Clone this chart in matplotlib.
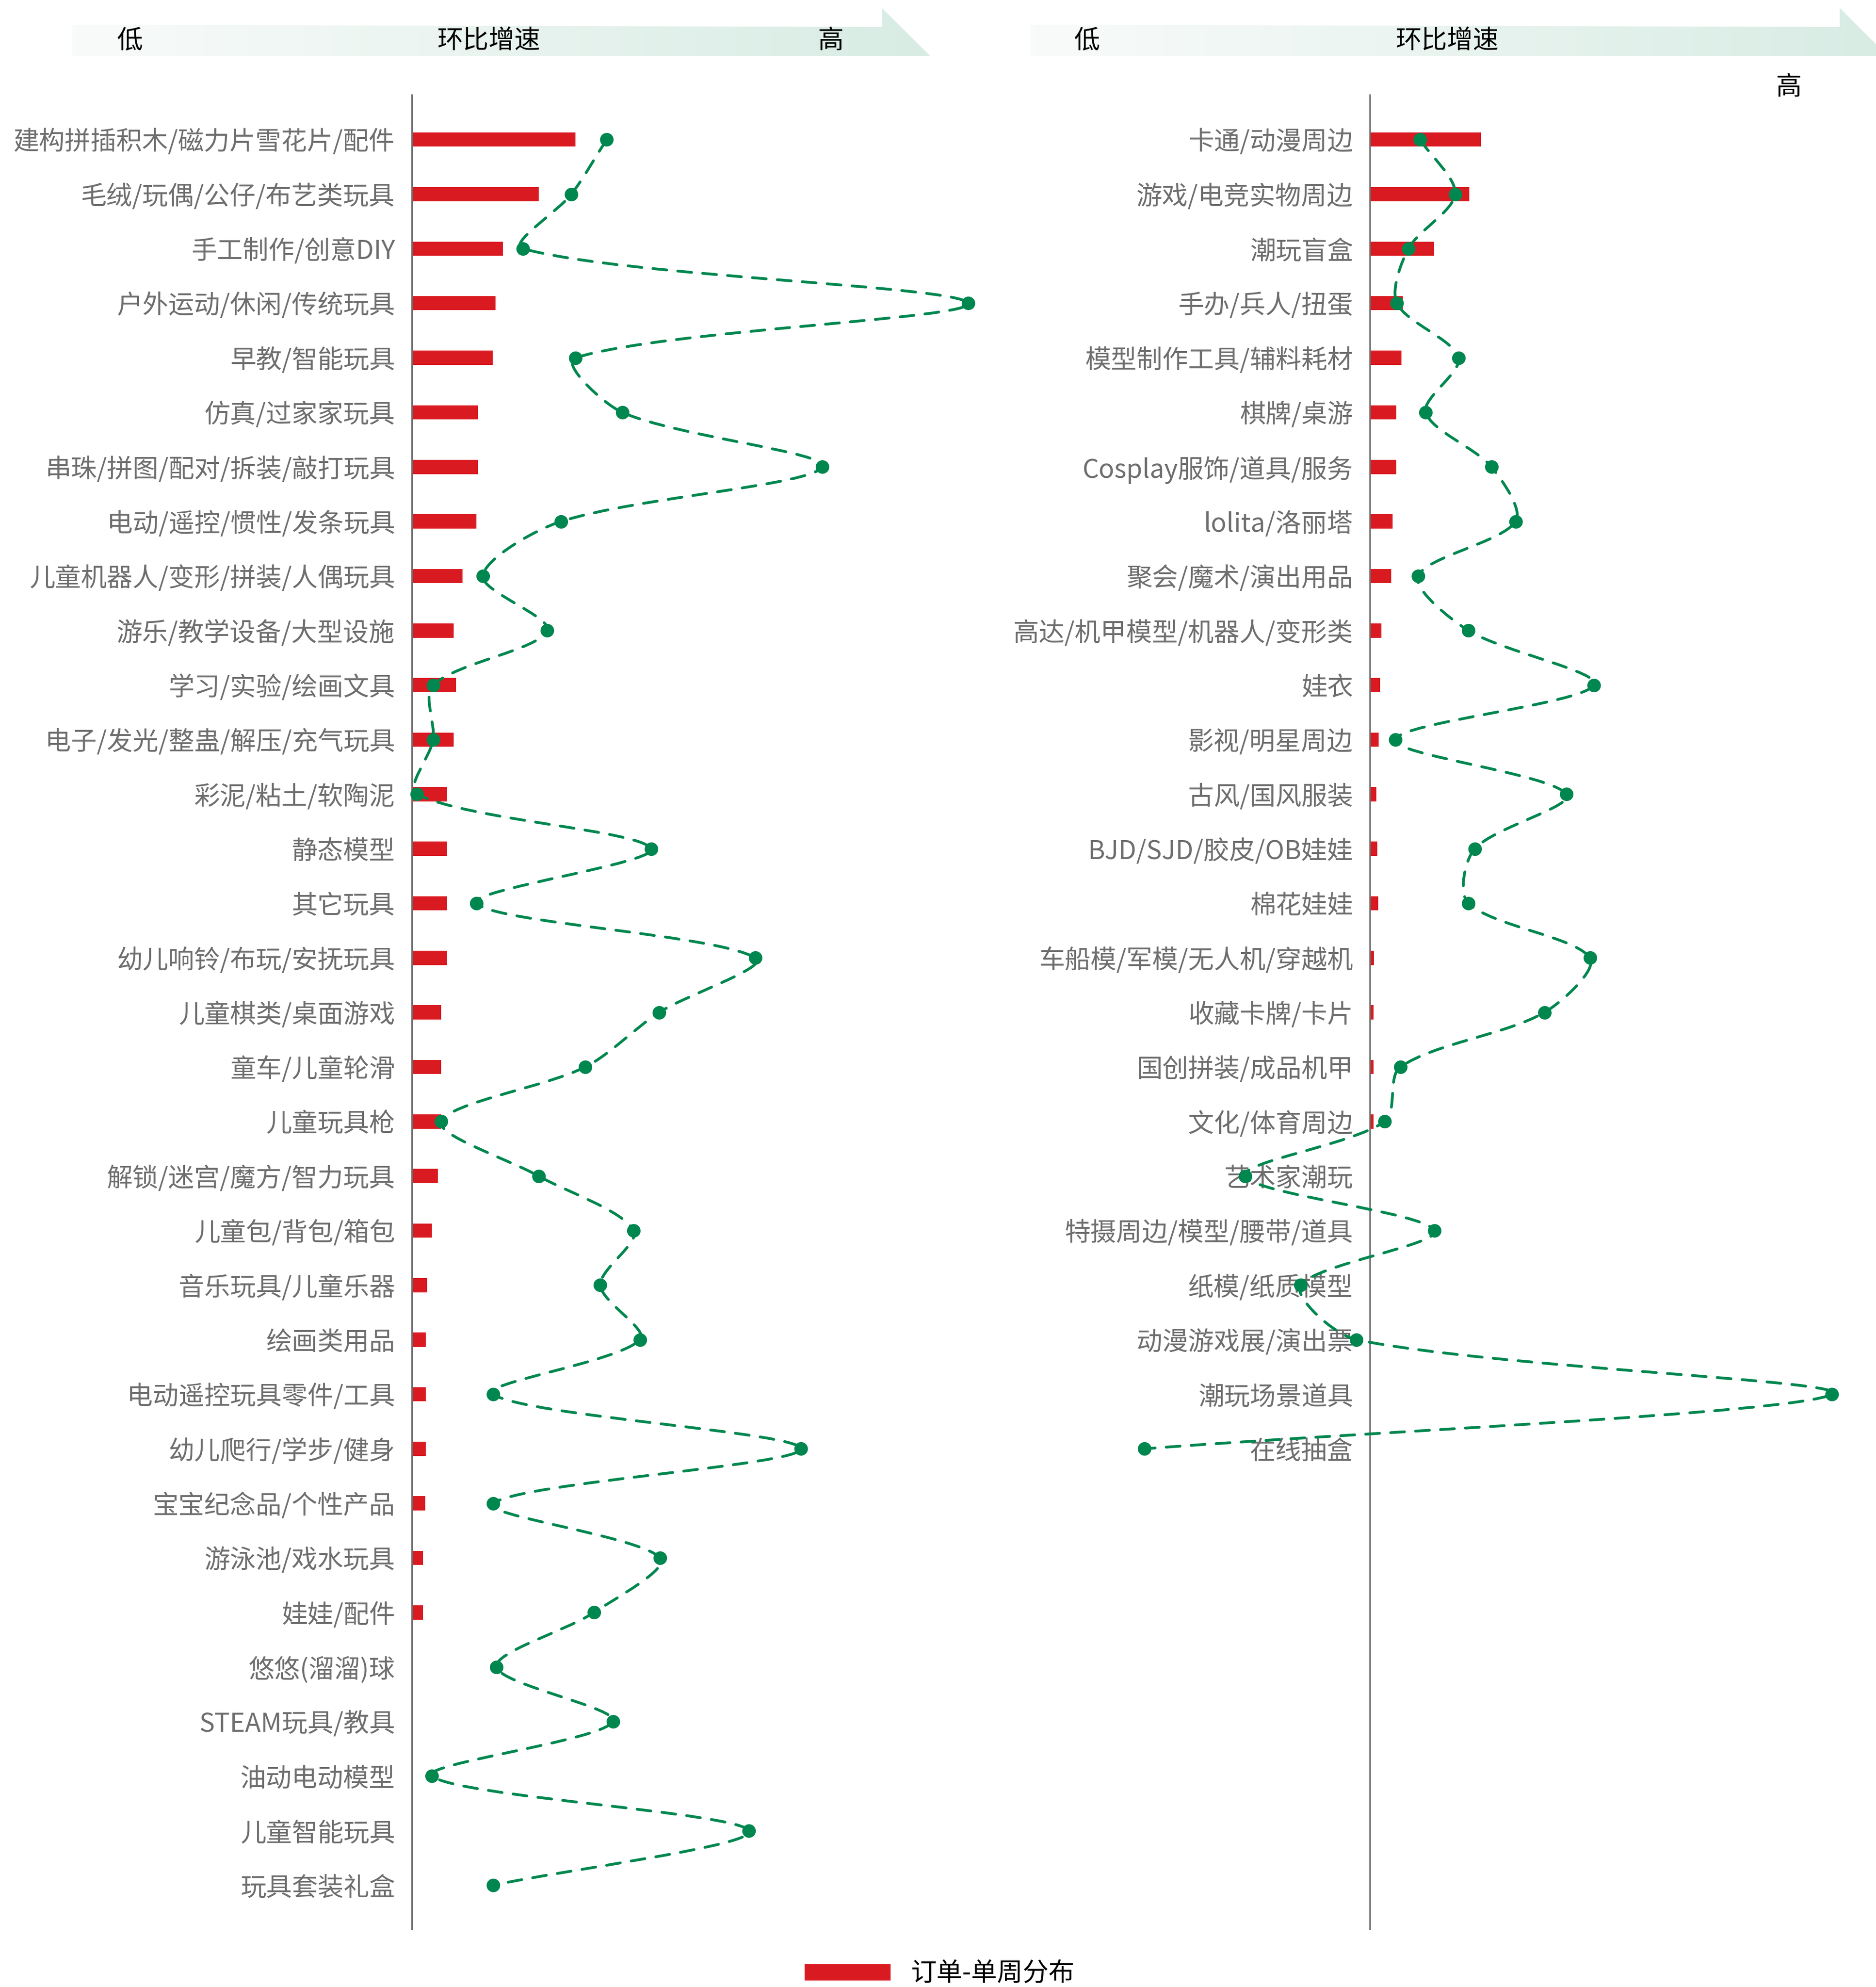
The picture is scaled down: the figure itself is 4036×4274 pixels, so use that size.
import numpy as np
import matplotlib
matplotlib.use('Agg')
import matplotlib.pyplot as plt
from matplotlib.path import Path
from matplotlib.patches import PathPatch, Polygon
from matplotlib.colors import LinearSegmentedColormap

plt.rcParams['font.family'] = ['Noto Sans CJK SC', 'DejaVu Sans']

# ---------------- data ----------------
left_categories = [
    '建构拼插积木/磁力片雪花片/配件', '毛绒/玩偶/公仔/布艺类玩具', '手工制作/创意DIY',
    '户外运动/休闲/传统玩具', '早教/智能玩具', '仿真/过家家玩具', '串珠/拼图/配对/拆装/敲打玩具',
    '电动/遥控/惯性/发条玩具', '儿童机器人/变形/拼装/人偶玩具', '游乐/教学设备/大型设施',
    '学习/实验/绘画文具', '电子/发光/整蛊/解压/充气玩具', '彩泥/粘土/软陶泥', '静态模型',
    '其它玩具', '幼儿响铃/布玩/安抚玩具', '儿童棋类/桌面游戏', '童车/儿童轮滑', '儿童玩具枪',
    '解锁/迷宫/魔方/智力玩具', '儿童包/背包/箱包', '音乐玩具/儿童乐器', '绘画类用品',
    '电动遥控玩具零件/工具', '幼儿爬行/学步/健身', '宝宝纪念品/个性产品', '游泳池/戏水玩具',
    '娃娃/配件', '悠悠(溜溜)球', 'STEAM玩具/教具', '油动电动模型', '儿童智能玩具', '玩具套装礼盒',
]
left_orders = [12.9, 10.0, 7.2, 6.6, 6.4, 5.2, 5.2, 5.1, 4.0, 3.3, 3.5, 3.3, 2.8, 2.8,
               2.8, 2.8, 2.3, 2.3, 2.3, 2.05, 1.58, 1.21, 1.1, 1.1, 1.1, 1.06, 0.88,
               0.88, 0, 0, 0, 0, 0]
left_growth = [33.8, 27.7, 19.3, 96.5, 28.4, 36.5, 71.2, 25.9, 12.3, 23.5, 3.7, 3.7,
               0.9, 41.5, 11.2, 59.6, 42.9, 30.1, 5.1, 22.0, 38.5, 32.7, 39.6, 14.1,
               67.5, 14.1, 43.1, 31.6, 14.7, 34.9, 3.5, 58.5, 14.1]

right_categories = [
    '卡通/动漫周边', '游戏/电竞实物周边', '潮玩盲盒', '手办/兵人/扭蛋', '模型制作工具/辅料耗材',
    '棋牌/桌游', 'Cosplay服饰/道具/服务', 'lolita/洛丽塔', '聚会/魔术/演出用品',
    '高达/机甲模型/机器人/变形类', '娃衣', '影视/明星周边', '古风/国风服装',
    'BJD/SJD/胶皮/OB娃娃', '棉花娃娃', '车船模/军模/无人机/穿越机', '收藏卡牌/卡片',
    '国创拼装/成品机甲', '文化/体育周边', '艺术家潮玩', '特摄周边/模型/腰带/道具',
    '纸模/纸质模型', '动漫游戏展/演出票', '潮玩场景道具', '在线抽盒',
]
right_orders = [8.77, 7.85, 5.06, 2.6, 2.5, 2.1, 2.1, 1.8, 1.7, 0.9, 0.8, 0.7, 0.5,
                0.6, 0.66, 0.33, 0.29, 0.29, 0.29, 0, 0, 0, 0, 0, 0]
right_growth = [8.7, 14.8, 6.7, 4.7, 15.4, 9.7, 21.1, 25.3, 8.4, 17.1, 38.9, 4.4, 34.1,
                18.2, 17.1, 38.2, 30.3, 5.3, 2.6, -21.6, 11.2, -12.0, -2.3, 80.2, -39.1]

legend_label = '订单-单周分布'
header_low, header_mid, header_high = '低', '环比增速', '高'

# ---------------- style ----------------
W, H = 4037, 4274
DPI = 100
BAR_RED = '#da1a21'
GREEN = '#00874f'
GRAY = '#6b6b6b'
LABEL_GRAY = '#6e6e6e'
FS = 40

fig = plt.figure(figsize=(W / DPI, H / DPI), dpi=DPI)
fig.patch.set_facecolor('white')

# background overlay (pixel coordinates) for header arrows
ax_bg = fig.add_axes([0, 0, 1, 1])
ax_bg.set_axis_off()
band_cmap = LinearSegmentedColormap.from_list('band', ['#f9fbfa', '#d8ece4'])
grad = np.linspace(0, 1, 256)[None, :]
for (x0, xv, xt) in [(155, 1897, 2002), (2217, 3958, 4062)]:
    poly = Polygon([(x0, 53), (xv, 58), (xv, 17), (xt, 121), (x0, 121)], closed=True,
                   facecolor='none', edgecolor='none')
    ax_bg.add_patch(poly)
    im = ax_bg.imshow(grad, cmap=band_cmap, extent=(x0, xt, 121, 17), aspect='auto',
                      interpolation='bilinear')
    im.set_clip_path(poly)
ax_bg.set_xlim(0, W)
ax_bg.set_ylim(H, 0)
for (x, y, s) in [(280, 88, header_low), (1051, 88, header_mid), (1788, 88, header_high),
                  (2339, 88, header_low), (3113, 88, header_mid), (3849, 188, header_high)]:
    ax_bg.text(x, y, s, fontsize=FS, ha='center', va='center', color='black')

# axes geometry
ax_top_px, ax_bot_px = 204, 4149
bottom = 1 - ax_bot_px / H
height = (ax_bot_px - ax_top_px) / H
ylim = (32.8, -0.82)


def smooth_path(ax, xs, ys, smooth=0.3):
    pts = ax.transData.transform(np.column_stack([xs, ys]))
    n = len(pts)
    cin, cout = [], []
    for i in range(n):
        p = pts[i]
        prev = pts[i - 1] if i > 0 else p
        nxt = pts[i + 1] if i < n - 1 else p
        v = (nxt - prev) * smooth
        d0 = np.hypot(*(p - prev))
        d1 = np.hypot(*(p - nxt))
        s = d0 + d1
        if s > 0:
            d0 /= s
            d1 /= s
        cin.append(p - v * d0)
        cout.append(p + v * d1)
    verts = [pts[0]]
    codes = [Path.MOVETO]
    for i in range(n - 1):
        verts += [cout[i], cin[i + 1], pts[i + 1]]
        codes += [Path.CURVE4] * 3
    verts = ax.transData.inverted().transform(np.array(verts))
    return Path(verts, codes)


def panel(left_px, width_px, cats, orders, growth, bar_max, growth_max):
    ax = fig.add_axes([left_px / W, bottom, width_px / W, height])
    y = np.arange(len(cats))
    bars = ax.barh(y, orders, height=0.26, color=BAR_RED, label=legend_label, zorder=2)
    ax.set_xlim(0, bar_max)
    ax.set_ylim(*ylim)
    ax.set_yticks(y)
    ax.set_yticklabels(cats, fontsize=FS, color=LABEL_GRAY, fontweight='light')
    ax.tick_params(axis='y', length=0, pad=26)
    ax.xaxis.set_visible(False)
    for side in ['top', 'right', 'bottom']:
        ax.spines[side].set_visible(False)
    ax.spines['left'].set_color(GRAY)
    ax.spines['left'].set_linewidth(2.3)
    ax.patch.set_alpha(0)

    ax2 = ax.twiny()
    ax2.set_xlim(0, growth_max)
    ax2.set_ylim(*ylim)
    ax2.set_axis_off()
    gy = np.arange(len(growth))
    path = smooth_path(ax2, growth, gy)
    ax2.add_patch(PathPatch(path, fill=False, edgecolor=GREEN, linewidth=4.3,
                            linestyle=(0, (5.0, 4.0)), capstyle='round',
                            transform=ax2.transData, clip_on=False, zorder=3))
    ax2.plot(growth, gy, 'o', color=GREEN, markersize=21, markeredgewidth=0,
             clip_on=False, zorder=4)
    return ax, bars


axL, barsL = panel(886, 1214, left_categories, left_orders, left_growth,
                   1214 / 27.26, 1214 / 12.4)
axR, barsR = panel(2947, 1090, right_categories, right_orders, right_growth,
                   1090 / 27.26, 1090 / 12.4)

fig.legend(handles=[barsL], labels=[legend_label], loc='center left',
           bbox_to_anchor=(1731 / W, 1 - 4246 / H), frameon=False, fontsize=FS,
           handlelength=3.33, handleheight=0.6, handletextpad=0.77,
           borderpad=0, borderaxespad=0)

fig.savefig('out.png', dpi=DPI, facecolor='white')
